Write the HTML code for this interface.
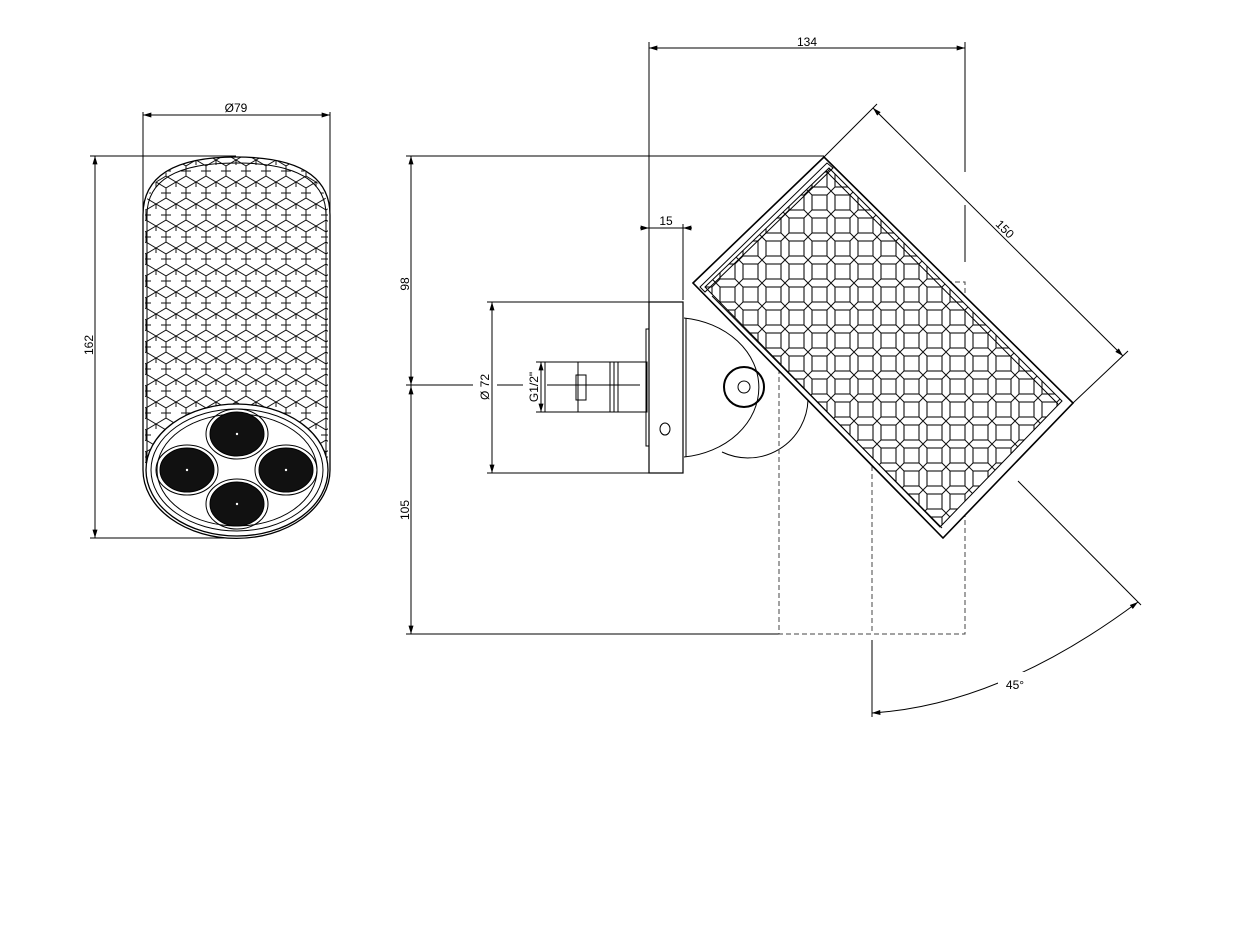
<!DOCTYPE html>
<html><head><meta charset="utf-8"><style>
html,body{margin:0;padding:0;background:#fff;}
svg{display:block;}
text{font-family:"Liberation Sans",sans-serif;font-size:12px;fill:#000;}
</style></head><body>
<svg width="1256" height="928" viewBox="0 0 1256 928" xmlns="http://www.w3.org/2000/svg">
<defs>
<marker id="a" viewBox="0 0 10 6" refX="10" refY="3" markerWidth="9" markerHeight="5" orient="auto-start-reverse" markerUnits="userSpaceOnUse"><path d="M0,0 L10,3 L0,6z" fill="#000"/></marker>
<pattern id="dia" width="20" height="22" patternUnits="userSpaceOnUse" patternTransform="translate(146,160)">
<path d="M0,6 L10,0 L20,6 L20,16 L10,22 L0,16 Z M10,0 L10,5 M0,11 L5,11 M15,11 L20,11" fill="none" stroke="#111" stroke-width="1"/>
</pattern>
<pattern id="sq" width="23" height="23" patternUnits="userSpaceOnUse" patternTransform="translate(693,283)">
<rect x="4" y="4" width="15" height="15" fill="none" stroke="#111" stroke-width="1.1"/>
<path d="M0,0 L4,4 M23,0 L19,4 M0,23 L4,19 M23,23 L19,19" stroke="#111" stroke-width="1"/>
</pattern>
<clipPath id="cl"><path d="M145,215 Q145,157 236,157 Q328,157 328,215 L328,470 L145,470 Z"/></clipPath>
<clipPath id="cr"><polygon points="705,287 829,168 1062,401 940,527"/></clipPath>
</defs>
<g fill="none" stroke="#000" stroke-width="1">
<line x1="143" y1="112" x2="143" y2="470"/>
<line x1="330" y1="112" x2="330" y2="470"/>
<line x1="143" y1="115" x2="330" y2="115" marker-start="url(#a)" marker-end="url(#a)"/>
<line x1="90" y1="156" x2="236" y2="156"/>
<line x1="90" y1="538" x2="236" y2="538"/>
<line x1="95" y1="156" x2="95" y2="538" marker-start="url(#a)" marker-end="url(#a)"/>
<rect x="145" y="157" width="183" height="320" fill="url(#dia)" stroke="none" clip-path="url(#cl)"/>
<path d="M143,215 Q143,157 236,157 Q330,157 330,215" stroke-width="1.3"/>
<path d="M147,215 Q147,163 236,163 Q326,163 326,215"/>
<line x1="143" y1="215" x2="143" y2="470" stroke-width="1.3"/>
<line x1="330" y1="215" x2="330" y2="470" stroke-width="1.3"/>
<line x1="147" y1="215" x2="147" y2="470"/>
<line x1="326" y1="215" x2="326" y2="470"/>
<path d="M143,470 A93,68 0 0 0 330,470" fill="#fff" stroke-width="1.3"/>
<ellipse cx="237" cy="470" rx="91" ry="66" fill="#fff" stroke-width="1.3"/>
<ellipse cx="237" cy="470" rx="86" ry="61"/>
<ellipse cx="237" cy="470" rx="80" ry="56"/>
<g fill="#111" stroke="#000">
<ellipse cx="237" cy="434" rx="27" ry="22"/>
<ellipse cx="187" cy="470" rx="27" ry="22"/>
<ellipse cx="286" cy="470" rx="27" ry="22"/>
<ellipse cx="237" cy="504" rx="27" ry="22"/>
</g>
<g fill="none" stroke="#000">
<ellipse cx="237" cy="434" rx="31" ry="25"/>
<ellipse cx="187" cy="470" rx="31" ry="25"/>
<ellipse cx="286" cy="470" rx="31" ry="25"/>
<ellipse cx="237" cy="504" rx="31" ry="25"/>
</g>
<g fill="#fff" stroke="none">
<circle cx="237" cy="434" r="1.2"/><circle cx="187" cy="470" r="1.2"/><circle cx="286" cy="470" r="1.2"/><circle cx="237" cy="504" r="1.2"/>
</g>

<line x1="649" y1="42" x2="649" y2="302"/>
<line x1="965" y1="42" x2="965" y2="172"/>
<line x1="965" y1="205" x2="965" y2="262"/>
<line x1="649" y1="48" x2="965" y2="48" marker-start="url(#a)" marker-end="url(#a)"/>
<line x1="406" y1="156" x2="824" y2="156"/>
<line x1="406" y1="634" x2="779" y2="634"/>
<line x1="411" y1="156" x2="411" y2="634"/>
<path d="M411,165 L411,156" marker-end="url(#a)"/>
<path d="M411,625 L411,634" marker-end="url(#a)"/>
<path d="M411,375 L411,385" marker-end="url(#a)"/>
<path d="M411,395 L411,386" marker-end="url(#a)"/>
<line x1="406" y1="385" x2="473" y2="385"/>
<line x1="497" y1="385" x2="523" y2="385"/>
<line x1="547" y1="385" x2="640" y2="385"/>
<line x1="683" y1="224" x2="683" y2="300"/>
<path d="M640,228 L649,228" marker-end="url(#a)"/>
<path d="M692,228 L683,228" marker-end="url(#a)"/>
<line x1="649" y1="228" x2="683" y2="228"/>
<line x1="487" y1="302" x2="649" y2="302"/>
<line x1="487" y1="473" x2="649" y2="473"/>
<line x1="492" y1="302" x2="492" y2="473" marker-start="url(#a)" marker-end="url(#a)"/>
<line x1="536" y1="362" x2="547" y2="362"/>
<line x1="536" y1="412" x2="547" y2="412"/>
<line x1="541" y1="362" x2="541" y2="412" marker-start="url(#a)" marker-end="url(#a)"/>
<rect x="545" y="362" width="102" height="50"/>
<line x1="578" y1="362" x2="578" y2="412"/>
<line x1="610" y1="362" x2="610" y2="412"/>
<line x1="614" y1="362" x2="614" y2="412"/>
<line x1="618" y1="362" x2="618" y2="412"/>
<rect x="576" y="375" width="10" height="25"/>
<rect x="646" y="329" width="3" height="117"/>
<rect x="649" y="302" width="34" height="171" stroke-width="1.2"/>
<ellipse cx="665" cy="429" rx="5" ry="6"/>
<path d="M684,318 A85,70 0 0 1 684,457" fill="#fff"/>
<line x1="686" y1="318" x2="686" y2="457"/>
<path d="M722,452 A60,60 0 0 0 808,400"/>
<circle cx="744" cy="387" r="20" stroke-width="2"/>
<circle cx="744" cy="387" r="6"/>
<g stroke-dasharray="5,3" stroke="#444">
<path d="M779,282 L965,282 L965,634 L779,634 Z"/>
<line x1="872" y1="282" x2="872" y2="634"/>
</g>
<polygon points="693,283 824,157 1073,403 943,538" fill="#fff" stroke-width="1.6"/>
<polygon points="705,287 829,168 1062,401 940,527" fill="url(#sq)" stroke="#000"/>
<polygon points="700,287 827,163 833,168 705,292" fill="none"/>
<line x1="826" y1="171" x2="1058" y2="404"/>
<line x1="712" y1="296" x2="942" y2="528"/>
<line x1="824" y1="157" x2="877" y2="104"/>
<line x1="1073" y1="403" x2="1128" y2="351"/>
<line x1="873" y1="108" x2="1123" y2="356" marker-start="url(#a)" marker-end="url(#a)"/>
<line x1="1018" y1="481" x2="1141" y2="605"/>
<line x1="872" y1="640" x2="872" y2="717"/>
<path d="M872,713 Q1000,705 1138,602" marker-start="url(#a)" marker-end="url(#a)"/>
</g>
<rect x="998" y="672" width="34" height="16" fill="#fff"/>
<text x="236" y="112" text-anchor="middle">Ø79</text>
<text transform="translate(93,345) rotate(-90)" text-anchor="middle">162</text>
<text x="807" y="46" text-anchor="middle">134</text>
<text x="666" y="225" text-anchor="middle">15</text>
<text transform="translate(409,284) rotate(-90)" text-anchor="middle">98</text>
<text transform="translate(409,510) rotate(-90)" text-anchor="middle">105</text>
<text transform="translate(489,387) rotate(-90)" text-anchor="middle">Ø 72</text>
<text transform="translate(538,387) rotate(-90)" text-anchor="middle">G1/2"</text>
<text transform="translate(1002,232) rotate(45)" text-anchor="middle">150</text>
<text x="1015" y="689" text-anchor="middle">45°</text>
</svg>
</body></html>
